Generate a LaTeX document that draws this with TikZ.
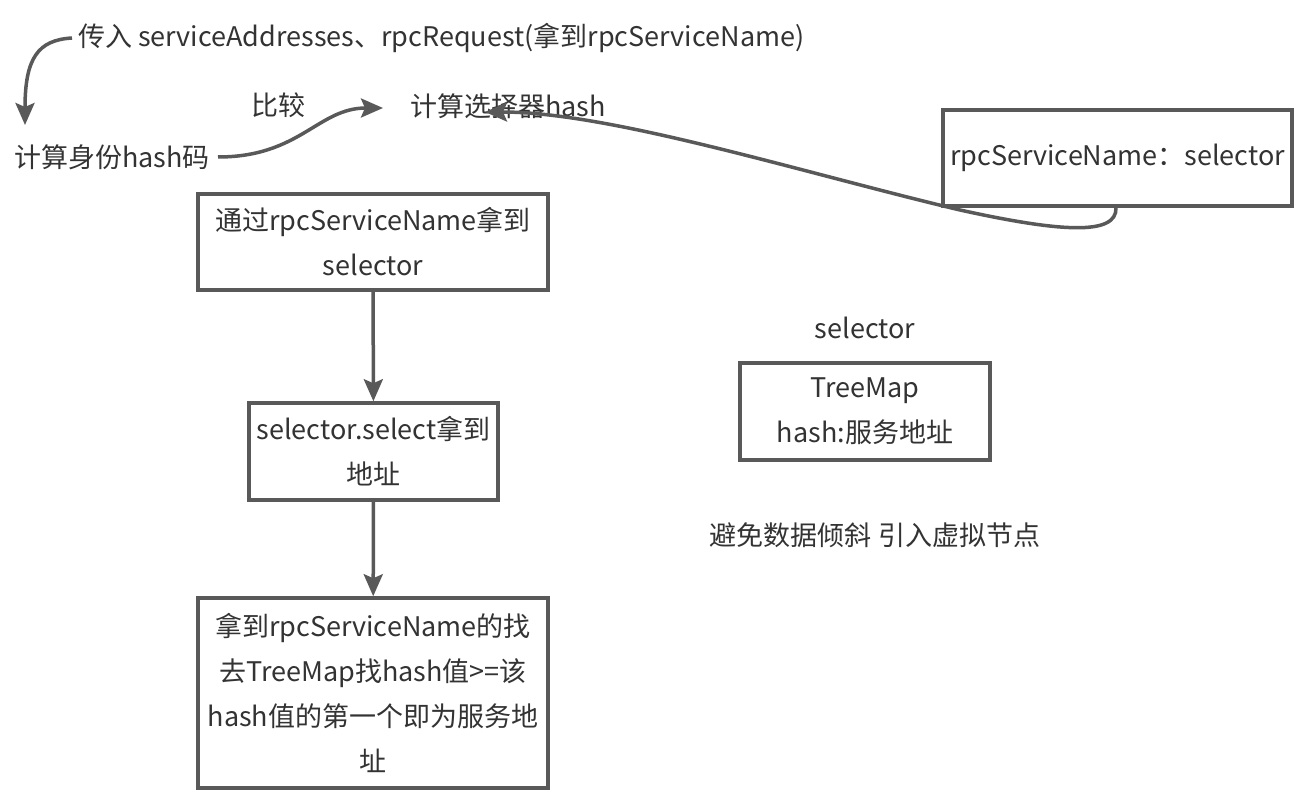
\documentclass[tikz,border=0pt]{standalone}
\usepackage{fontspec}
\setmainfont{Noto Sans CJK SC}
\usepackage{xcolor}
\usepackage{tikz}
\usetikzlibrary{arrows.meta}

\definecolor{linegray}{HTML}{595959}
\definecolor{textgray}{HTML}{333333}

\tikzset{
    box/.style={draw=linegray, line width=3.5pt, rectangle, align=center, inner sep=0pt},
    lbl/.style={inner sep=0pt, outer sep=6pt, text=textgray},
    flow/.style={draw=linegray, line width=3.5pt, -{Stealth[length=22pt, width=19pt, inset=4pt]}}
}

\begin{document}
\begin{tikzpicture}[x=1pt, y=-1pt, font=\fontsize{27}{45}\selectfont, text=textgray]
    \useasboundingbox[fill=white] (0,0) rectangle (1304,794);

    % Input
    \node[lbl, anchor=west, outer sep=0pt] (input) at (78,38) {传入 serviceAddresses、rpcRequest(拿到rpcServiceName)};

    % Identity hash
    \node[lbl, anchor=west, outer sep=0pt] (idhash) at (14,157) {计算身份hash码};

    % Compare
    \node[lbl] (cmp) at (278,105) {比较};

    % Selector hash
    \node[lbl, anchor=west, outer sep=0pt] (selhash) at (410,106) {计算选择器hash};

    % Map rpcServiceName -> selector
    \node[box, minimum width=349pt, minimum height=96pt] (rsn) at (1117.5,158) {rpcServiceName：selector};

    % Get selector
    \node[box, minimum width=350pt, minimum height=96pt] (getsel) at (373,242) {通过rpcServiceName拿到\\selector};

    % Select address
    \node[box, minimum width=249pt, minimum height=97pt] (select) at (373.5,451.5) {selector.select拿到\\地址};

    % Find in TreeMap
    \node[box, minimum width=350pt, minimum height=190pt] (find) at (373,693) {拿到rpcServiceName的找\\去TreeMap找hash值>=该\\hash值的第一个即为服务地\\址};

    % Selector structure
    \node[lbl] (sellbl) at (865,328) {selector};
    \node[box, minimum width=250pt, minimum height=97pt] (tree) at (865,411.5) {TreeMap\\hash:服务地址};

    % Virtual nodes
    \node[lbl] (skew) at (875,535) {避免数据倾斜 引入虚拟节点};

    % Free ends
    \coordinate (inout) at (72,38);
    \coordinate (idout) at (218,157);
    \coordinate (idtop) at (25,125);
    \coordinate (selin) at (383,108);
    \coordinate (selback) at (485,112);

    % Connections
    \draw[flow] (inout) .. controls (38,40) and (25,58) .. (idtop);
    \draw[flow] (idout) .. controls (300,157) and (318,108) .. (selin);
    \draw[flow] (rsn.south -| 1116,0) .. controls (1117,236) and (1060,232) .. (960,210) .. controls (800,172) and (610,112) .. (selback);
    \draw[flow] (getsel) -- (select);
    \draw[flow] (select) -- (find);

\end{tikzpicture}
\end{document}
